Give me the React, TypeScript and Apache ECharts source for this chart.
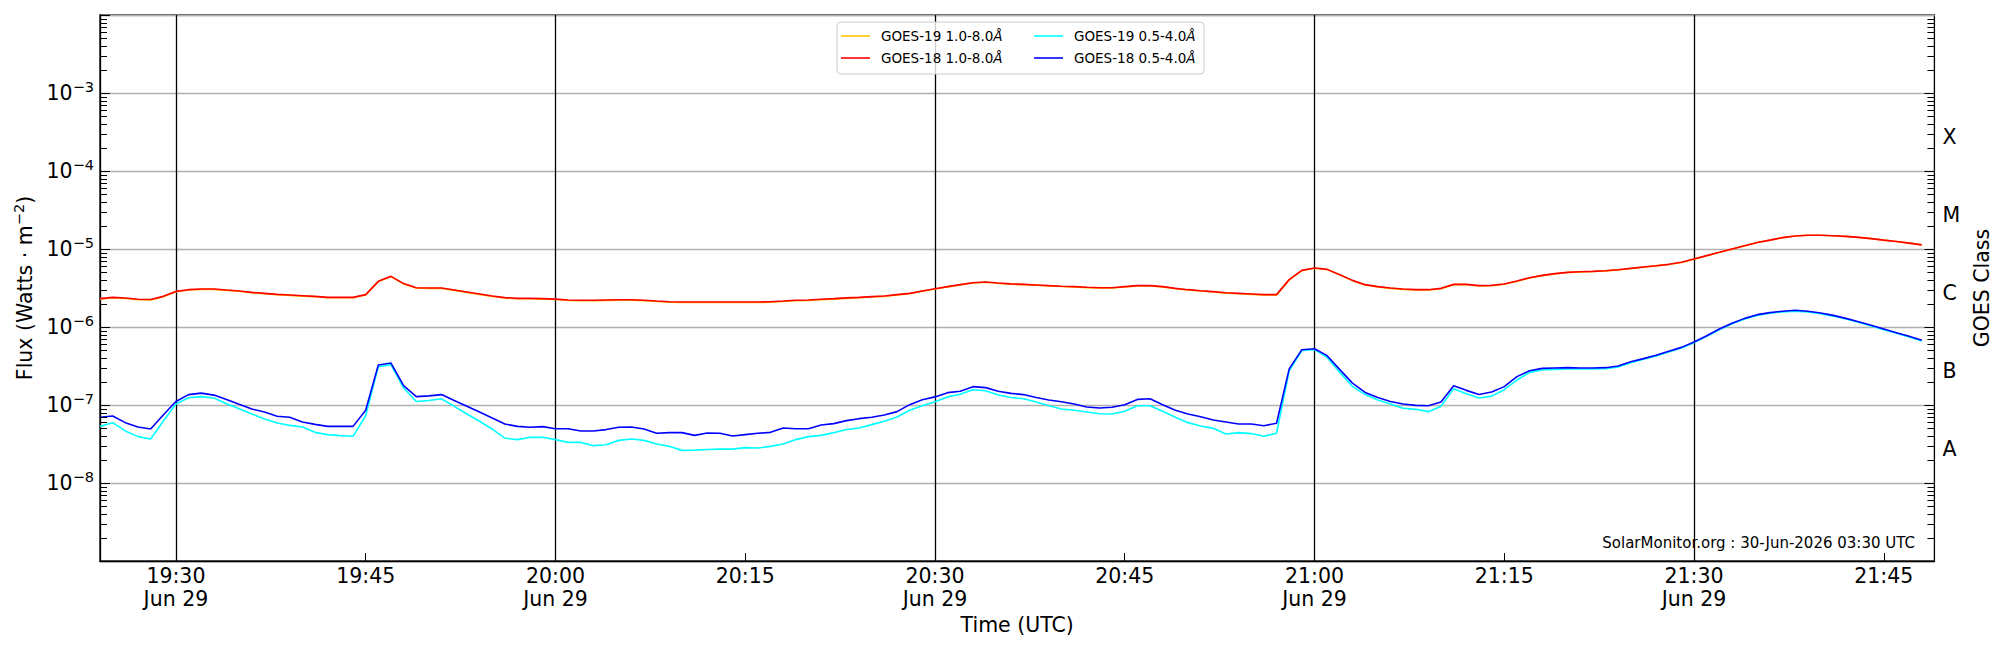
import React, { useEffect, useRef } from 'react';
import * as echarts from 'echarts';

const FONT = 'DejaVu Sans';

// x categories: one-minute cadence from 19:24 to 21:49 (UTC), Jun 29
const START_MINUTE_OF_DAY = 19 * 60 + 24;
const CATEGORY_COUNT = 146;
const DATE_LABEL = 'Jun 29';
const timeLabels: string[] = Array.from({ length: CATEGORY_COUNT }, (_, i) => {
  const m = START_MINUTE_OF_DAY + i;
  const hh = String(Math.floor(m / 60)).padStart(2, '0');
  const mm = String(m % 60).padStart(2, '0');
  return `${hh}:${mm}`;
});

const NAME_G19_LONG = 'GOES-19 1.0-8.0Å';
const NAME_G18_LONG = 'GOES-18 1.0-8.0Å';
const NAME_G19_SHORT = 'GOES-19 0.5-4.0Å';
const NAME_G18_SHORT = 'GOES-18 0.5-4.0Å';

// GOES-18 1.0-8.0 Å (W m^-2), 19:24 .. 21:48
const goes18Long = [
  2.31e-6, 2.40e-6, 2.35e-6, 2.27e-6, 2.25e-6, 2.47e-6, 2.86e-6, 3.01e-6, 3.07e-6, 3.07e-6,
  2.98e-6, 2.90e-6, 2.78e-6, 2.70e-6, 2.62e-6, 2.57e-6, 2.52e-6, 2.47e-6, 2.40e-6, 2.40e-6,
  2.40e-6, 2.60e-6, 3.85e-6, 4.46e-6, 3.60e-6, 3.19e-6, 3.16e-6, 3.16e-6, 2.98e-6, 2.81e-6,
  2.65e-6, 2.50e-6, 2.38e-6, 2.33e-6, 2.33e-6, 2.31e-6, 2.28e-6, 2.22e-6, 2.20e-6, 2.20e-6,
  2.22e-6, 2.24e-6, 2.24e-6, 2.20e-6, 2.15e-6, 2.11e-6, 2.09e-6, 2.09e-6, 2.09e-6, 2.09e-6,
  2.09e-6, 2.09e-6, 2.09e-6, 2.11e-6, 2.15e-6, 2.20e-6, 2.22e-6, 2.27e-6, 2.31e-6, 2.36e-6,
  2.40e-6, 2.45e-6, 2.50e-6, 2.60e-6, 2.70e-6, 2.90e-6, 3.10e-6, 3.29e-6, 3.49e-6, 3.70e-6,
  3.77e-6, 3.66e-6, 3.57e-6, 3.52e-6, 3.46e-6, 3.39e-6, 3.33e-6, 3.29e-6, 3.23e-6, 3.19e-6,
  3.19e-6, 3.29e-6, 3.39e-6, 3.39e-6, 3.29e-6, 3.13e-6, 3.01e-6, 2.92e-6, 2.84e-6, 2.75e-6,
  2.70e-6, 2.65e-6, 2.60e-6, 2.60e-6, 4.05e-6, 5.32e-6, 5.70e-6, 5.48e-6, 4.69e-6, 3.96e-6,
  3.49e-6, 3.29e-6, 3.16e-6, 3.07e-6, 3.01e-6, 3.01e-6, 3.13e-6, 3.52e-6, 3.52e-6, 3.39e-6,
  3.42e-6, 3.56e-6, 3.89e-6, 4.29e-6, 4.59e-6, 4.83e-6, 5.02e-6, 5.12e-6, 5.17e-6, 5.27e-6,
  5.43e-6, 5.65e-6, 5.88e-6, 6.11e-6, 6.36e-6, 6.75e-6, 7.45e-6, 8.22e-6, 9.06e-6, 1.00e-5,
  1.10e-5, 1.21e-5, 1.30e-5, 1.40e-5, 1.47e-5, 1.50e-5, 1.50e-5, 1.48e-5, 1.45e-5, 1.41e-5,
  1.36e-5, 1.30e-5, 1.25e-5, 1.19e-5, 1.13e-5,
];

// GOES-19 1.0-8.0 Å: practically indistinguishable from GOES-18 in the picture (drawn underneath)
const goes19Long = [
  2.28e-6, 2.37e-6, 2.32e-6, 2.24e-6, 2.22e-6, 2.44e-6, 2.83e-6, 2.98e-6, 3.04e-6, 3.04e-6,
  2.95e-6, 2.87e-6, 2.75e-6, 2.67e-6, 2.59e-6, 2.54e-6, 2.49e-6, 2.44e-6, 2.37e-6, 2.37e-6,
  2.37e-6, 2.57e-6, 3.82e-6, 4.43e-6, 3.57e-6, 3.16e-6, 3.13e-6, 3.13e-6, 2.95e-6, 2.78e-6,
  2.62e-6, 2.47e-6, 2.35e-6, 2.30e-6, 2.30e-6, 2.28e-6, 2.25e-6, 2.19e-6, 2.17e-6, 2.17e-6,
  2.19e-6, 2.21e-6, 2.21e-6, 2.17e-6, 2.12e-6, 2.08e-6, 2.06e-6, 2.06e-6, 2.06e-6, 2.06e-6,
  2.06e-6, 2.06e-6, 2.06e-6, 2.08e-6, 2.12e-6, 2.17e-6, 2.19e-6, 2.24e-6, 2.28e-6, 2.33e-6,
  2.37e-6, 2.42e-6, 2.47e-6, 2.57e-6, 2.67e-6, 2.87e-6, 3.07e-6, 3.26e-6, 3.46e-6, 3.67e-6,
  3.74e-6, 3.63e-6, 3.54e-6, 3.49e-6, 3.43e-6, 3.36e-6, 3.30e-6, 3.26e-6, 3.20e-6, 3.16e-6,
  3.16e-6, 3.26e-6, 3.36e-6, 3.36e-6, 3.26e-6, 3.10e-6, 2.98e-6, 2.89e-6, 2.81e-6, 2.72e-6,
  2.67e-6, 2.62e-6, 2.57e-6, 2.57e-6, 4.02e-6, 5.29e-6, 5.67e-6, 5.45e-6, 4.66e-6, 3.93e-6,
  3.46e-6, 3.26e-6, 3.13e-6, 3.04e-6, 2.98e-6, 2.98e-6, 3.10e-6, 3.49e-6, 3.49e-6, 3.36e-6,
  3.39e-6, 3.53e-6, 3.86e-6, 4.26e-6, 4.56e-6, 4.80e-6, 4.99e-6, 5.09e-6, 5.14e-6, 5.24e-6,
  5.40e-6, 5.62e-6, 5.85e-6, 6.08e-6, 6.33e-6, 6.72e-6, 7.42e-6, 8.19e-6, 9.03e-6, 9.97e-6,
  1.10e-5, 1.21e-5, 1.30e-5, 1.40e-5, 1.47e-5, 1.50e-5, 1.50e-5, 1.48e-5, 1.45e-5, 1.41e-5,
  1.36e-5, 1.30e-5, 1.25e-5, 1.19e-5, 1.13e-5,
];

// GOES-19 0.5-4.0 Å
const goes19Short = [
  5.32e-8, 5.94e-8, 4.65e-8, 3.93e-8, 3.66e-8, 6.18e-8, 1.03e-7, 1.24e-7, 1.28e-7, 1.23e-7,
  1.04e-7, 8.97e-8, 7.67e-8, 6.62e-8, 5.88e-8, 5.48e-8, 5.23e-8, 4.46e-8, 4.17e-8, 4.05e-8,
  3.97e-8, 7.29e-8, 3.10e-7, 3.29e-7, 1.65e-7, 1.11e-7, 1.14e-7, 1.20e-7, 9.62e-8, 7.67e-8,
  6.18e-8, 4.92e-8, 3.77e-8, 3.60e-8, 3.85e-8, 3.85e-8, 3.60e-8, 3.32e-8, 3.32e-8, 3.01e-8,
  3.10e-8, 3.52e-8, 3.66e-8, 3.52e-8, 3.16e-8, 2.95e-8, 2.62e-8, 2.64e-8, 2.69e-8, 2.72e-8,
  2.72e-8, 2.84e-8, 2.81e-8, 2.95e-8, 3.16e-8, 3.60e-8, 3.93e-8, 4.08e-8, 4.42e-8, 4.84e-8,
  5.07e-8, 5.60e-8, 6.18e-8, 7.02e-8, 8.55e-8, 9.79e-8, 1.10e-7, 1.27e-7, 1.37e-7, 1.57e-7,
  1.52e-7, 1.34e-7, 1.25e-7, 1.20e-7, 1.09e-7, 9.79e-8, 8.89e-8, 8.55e-8, 8.13e-8, 7.74e-8,
  7.67e-8, 8.30e-8, 9.79e-8, 9.79e-8, 8.30e-8, 6.95e-8, 5.94e-8, 5.38e-8, 5.02e-8, 4.25e-8,
  4.42e-8, 4.30e-8, 3.97e-8, 4.34e-8, 2.75e-7, 5.00e-7, 5.12e-7, 4.08e-7, 2.62e-7, 1.73e-7,
  1.36e-7, 1.16e-7, 1.03e-7, 9.07e-8, 8.80e-8, 8.22e-8, 9.62e-8, 1.62e-7, 1.39e-7, 1.23e-7,
  1.30e-7, 1.57e-7, 2.09e-7, 2.62e-7, 2.81e-7, 2.86e-7, 2.90e-7, 2.90e-7, 2.90e-7, 2.92e-7,
  3.07e-7, 3.49e-7, 3.85e-7, 4.25e-7, 4.78e-7, 5.38e-7, 6.30e-7, 7.59e-7, 9.24e-7, 1.10e-6,
  1.27e-6, 1.41e-6, 1.50e-6, 1.56e-6, 1.60e-6, 1.56e-6, 1.48e-6, 1.38e-6, 1.27e-6, 1.15e-6,
  1.03e-6, 9.24e-7, 8.29e-7, 7.45e-7, 6.62e-7,
];

// GOES-18 0.5-4.0 Å
const goes18Short = [
  6.95e-8, 7.22e-8, 5.94e-8, 5.23e-8, 4.92e-8, 7.45e-8, 1.11e-7, 1.36e-7, 1.42e-7, 1.34e-7,
  1.18e-7, 1.02e-7, 8.89e-8, 8.13e-8, 7.16e-8, 6.95e-8, 6.05e-8, 5.65e-8, 5.32e-8, 5.32e-8,
  5.32e-8, 8.55e-8, 3.26e-7, 3.45e-7, 1.77e-7, 1.28e-7, 1.31e-7, 1.36e-7, 1.14e-7, 9.62e-8,
  8.13e-8, 6.81e-8, 5.70e-8, 5.32e-8, 5.18e-8, 5.28e-8, 4.95e-8, 4.97e-8, 4.65e-8, 4.65e-8,
  4.84e-8, 5.18e-8, 5.23e-8, 4.92e-8, 4.34e-8, 4.42e-8, 4.42e-8, 4.08e-8, 4.38e-8, 4.34e-8,
  4.01e-8, 4.17e-8, 4.34e-8, 4.46e-8, 5.07e-8, 4.97e-8, 4.97e-8, 5.54e-8, 5.77e-8, 6.30e-8,
  6.68e-8, 6.95e-8, 7.45e-8, 8.22e-8, 1.01e-7, 1.17e-7, 1.27e-7, 1.44e-7, 1.50e-7, 1.72e-7,
  1.67e-7, 1.50e-7, 1.41e-7, 1.36e-7, 1.25e-7, 1.16e-7, 1.10e-7, 1.03e-7, 9.43e-8, 9.16e-8,
  9.34e-8, 1.01e-7, 1.18e-7, 1.20e-7, 1.01e-7, 8.55e-8, 7.67e-8, 7.08e-8, 6.42e-8, 6.05e-8,
  5.70e-8, 5.70e-8, 5.43e-8, 5.83e-8, 2.90e-7, 5.12e-7, 5.27e-7, 4.29e-7, 2.84e-7, 1.91e-7,
  1.45e-7, 1.25e-7, 1.11e-7, 1.03e-7, 9.90e-8, 9.80e-8, 1.09e-7, 1.77e-7, 1.54e-7, 1.36e-7,
  1.47e-7, 1.72e-7, 2.31e-7, 2.75e-7, 2.95e-7, 2.98e-7, 3.01e-7, 2.98e-7, 2.98e-7, 3.01e-7,
  3.16e-7, 3.59e-7, 3.93e-7, 4.34e-7, 4.88e-7, 5.48e-7, 6.42e-7, 7.74e-7, 9.42e-7, 1.12e-6,
  1.29e-6, 1.44e-6, 1.53e-6, 1.59e-6, 1.64e-6, 1.59e-6, 1.51e-6, 1.41e-6, 1.29e-6, 1.17e-6,
  1.05e-6, 9.42e-7, 8.45e-7, 7.59e-7, 6.75e-7,
];

// axis definitions
const Y_MIN = 1e-9;
const Y_MAX = 1e-2;
const labeledExponents = [-8, -7, -6, -5, -4, -3];
const decadeExponents = [-9, -8, -7, -6, -5, -4, -3];
const minorMantissas = [2, 3, 4, 5, 6, 7, 8, 9];
const classNames = ['A', 'B', 'C', 'M', 'X'];
const classExponents = [-7.5, -6.5, -5.5, -4.5, -3.5];
const CREDIT = 'SolarMonitor.org : 30-Jun-2026 03:30 UTC';

const COLORS = {
  g19Long: '#ffc000',
  g18Long: '#ff0000',
  g19Short: '#00ffff',
  g18Short: '#0000ff',
};

const minuteOf = (label: string) => Number(label.split(':')[1]);
const isQuarter = (label: string) => minuteOf(label) % 15 === 0;
const isHalf = (label: string) => minuteOf(label) % 30 === 0;

// tick marks on the vertical frame sides: [x index, value, kind] (kind 0 minor both sides, 1 major right side)
const tickData: number[][] = [];
decadeExponents.forEach((e) => {
  minorMantissas.forEach((m) => tickData.push([0, m * Math.pow(10, e), 0]));
});
labeledExponents.forEach((e) => tickData.push([0, Math.pow(10, e), 1]));

export default function App() {
  const ref = useRef<HTMLDivElement>(null);

  useEffect(() => {
    document.body.style.margin = '0';
    if (!ref.current) return;
    const chart = echarts.init(ref.current, undefined, { renderer: 'svg' });

    const legendText = {
      fontFamily: FONT,
      fontSize: 13.5,
      color: '#000',
      padding: [0, 0, 0, 6],
      rich: { i: { fontFamily: FONT, fontSize: 13.5, fontStyle: 'italic', color: '#000' } },
    };
    const legendFormatter = (name: string) => name.replace('Å', '{i|Å}');
    const supStyle = { fontFamily: FONT, fontSize: 14.5, padding: [0, 0, 13, 0], color: '#000' };

    const lineSeries = (name: string, data: number[], color: string) => ({
      name,
      type: 'line',
      data,
      xAxisIndex: 0,
      yAxisIndex: 0,
      symbol: 'none',
      showSymbol: false,
      silent: true,
      lineStyle: { color, width: 1.6 },
      itemStyle: { color },
      emphasis: { disabled: true },
    });

    const legendBase = {
      orient: 'vertical',
      top: 29,
      icon: 'rect',
      itemWidth: 29,
      itemHeight: 1.6,
      itemGap: 8,
      padding: 0,
      selectedMode: false,
      textStyle: legendText,
      formatter: legendFormatter,
      z: 20,
    };

    const option: any = {
      animation: false,
      textStyle: { fontFamily: FONT },
      grid: {
        left: 100,
        right: 60,
        top: 15,
        bottom: 89,
        show: true,
        borderColor: '#000',
        borderWidth: 1.3,
        backgroundColor: 'transparent',
      },
      xAxis: {
        type: 'category',
        data: timeLabels,
        boundaryGap: false,
        axisLine: { show: true, lineStyle: { color: '#000', width: 1.3 } },
        axisTick: {
          show: true,
          inside: true,
          length: 8,
          interval: (_i: number, v: string) => isQuarter(v),
          lineStyle: { color: '#000', width: 1 },
        },
        axisLabel: {
          interval: (_i: number, v: string) => isQuarter(v),
          formatter: (v: string) => (isHalf(v) ? `${v}\n${DATE_LABEL}` : v),
          fontFamily: FONT,
          fontSize: 20.5,
          color: '#000',
          lineHeight: 23,
          margin: 3,
        },
        splitLine: {
          show: true,
          interval: (_i: number, v: string) => isHalf(v),
          lineStyle: { color: '#000', width: 1.3 },
        },
        name: 'Time (UTC)',
        nameLocation: 'middle',
        nameGap: 52,
        nameTextStyle: { fontFamily: FONT, fontSize: 20.5, color: '#000' },
      },
      yAxis: [
        {
          type: 'log',
          logBase: 10,
          min: Y_MIN,
          max: Y_MAX,
          splitNumber: 7,
          position: 'left',
          axisLine: { show: true, lineStyle: { color: '#000', width: 1.3 } },
          axisTick: { show: true, inside: true, length: 10, lineStyle: { color: '#000', width: 1 } },
          axisLabel: {
            formatter: (v: number) => {
              const e = Math.round(Math.log10(v));
              return labeledExponents.includes(e) ? `10{sup|\u2212${-e}}` : '';
            },
            fontFamily: FONT,
            fontSize: 20.5,
            color: '#000',
            margin: 6,
            rich: { sup: supStyle },
          },
          splitLine: { show: true, lineStyle: { color: '#b0b0b0', width: 1.3 } },
          name: 'Flux (Watts \u00b7 m{sup|\u22122})',
          nameLocation: 'middle',
          nameRotate: 90,
          nameGap: 61,
          nameTextStyle: { fontFamily: FONT, fontSize: 20.5, color: '#000', rich: { sup: supStyle } },
        },
        {
          type: 'value',
          min: -9,
          max: -2,
          interval: 0.5,
          position: 'right',
          axisLine: { show: false },
          axisTick: { show: false },
          splitLine: { show: false },
          axisLabel: {
            formatter: (v: number) => {
              const k = classExponents.findIndex((c) => Math.abs(c - v) < 1e-6);
              return k >= 0 ? `{c|${classNames[k]}}` : '';
            },
            fontFamily: FONT,
            fontSize: 20.5,
            color: '#000',
            margin: 8,
            rich: { c: { fontFamily: FONT, fontSize: 20.5, color: '#000', padding: [10, 0, 0, 0] } },
          },
          name: 'GOES Class',
          nameLocation: 'middle',
          nameRotate: 90,
          nameGap: 22,
          nameTextStyle: { fontFamily: FONT, fontSize: 20.5, color: '#000' },
        },
      ],
      legend: [
        { ...legendBase, data: [NAME_G19_LONG, NAME_G18_LONG], left: 841 },
        { ...legendBase, data: [NAME_G19_SHORT, NAME_G18_SHORT], left: 1034 },
      ],
      graphic: [
        {
          type: 'rect',
          z: 10,
          silent: true,
          shape: { x: 837, y: 22, width: 367, height: 52, r: 4 },
          style: { fill: 'rgba(255,255,255,0.8)', stroke: '#cccccc', lineWidth: 1 },
        },
        {
          type: 'text',
          z: 10,
          silent: true,
          x: 1915,
          y: 543,
          style: {
            text: CREDIT,
            fontFamily: FONT,
            fontSize: 15,
            fill: '#000',
            align: 'right',
            verticalAlign: 'middle',
          },
        },
      ],
      series: [
        lineSeries(NAME_G19_LONG, goes19Long, COLORS.g19Long),
        lineSeries(NAME_G18_LONG, goes18Long, COLORS.g18Long),
        lineSeries(NAME_G19_SHORT, goes19Short, COLORS.g19Short),
        lineSeries(NAME_G18_SHORT, goes18Short, COLORS.g18Short),
        {
          type: 'custom',
          name: 'ticks',
          silent: true,
          data: tickData,
          encode: { x: 0, y: 1 },
          z: 6,
          renderItem: (params: any, api: any) => {
            const v = api.value(1);
            const kind = api.value(2);
            const p = api.coord([0, v]);
            const y = Math.round(p[1]) + 0.5;
            const cs = params.coordSys;
            const len = kind === 1 ? 10 : 7;
            const st = { stroke: '#000', lineWidth: 1 };
            const right = {
              type: 'line',
              shape: { x1: cs.x + cs.width - len, y1: y, x2: cs.x + cs.width, y2: y },
              style: st,
            };
            if (kind === 1) return { type: 'group', children: [right] };
            return {
              type: 'group',
              children: [
                { type: 'line', shape: { x1: cs.x, y1: y, x2: cs.x + len, y2: y }, style: st },
                right,
              ],
            };
          },
        },
      ],
    };

    chart.setOption(option);
    return () => chart.dispose();
  }, []);

  return <div ref={ref} style={{ width: 2000, height: 650 }} />;
}
